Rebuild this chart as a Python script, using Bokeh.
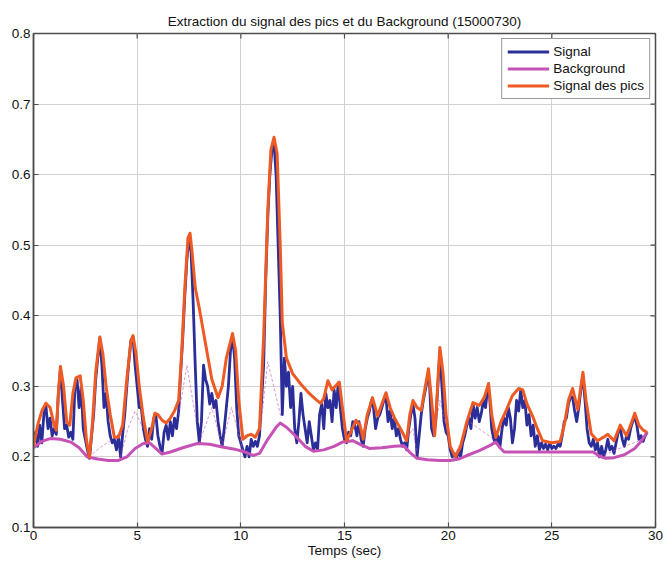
from bokeh.plotting import figure
from bokeh.models import Range1d, FixedTicker, NumeralTickFormatter
from bokeh.embed import file_html
from bokeh.resources import INLINE

FONT = "Liberation Sans"

title_text = "Extraction du signal des pics et du Background (15000730)"
x_label = "Temps (sec)"
x_ticks = [0, 5, 10, 15, 20, 25, 30]
y_ticks = [0.1, 0.2, 0.3, 0.4, 0.5, 0.6, 0.7, 0.8]
X_MIN, X_MAX = 0, 30
Y_MIN, Y_MAX = 0.1, 0.8

# Signal (blue), sampled every 0.1 s from 0.0 to 29.6 s
signal_y = [
    0.22, 0.235, 0.215, 0.245, 0.22, 0.26, 0.272, 0.24, 0.255, 0.23,
    0.24, 0.232, 0.29, 0.325, 0.28, 0.24, 0.245, 0.228, 0.235, 0.225,
    0.30, 0.31, 0.27, 0.30, 0.24, 0.225, 0.21, 0.198, 0.23, 0.26,
    0.31, 0.34, 0.368, 0.33, 0.27, 0.29, 0.25, 0.23, 0.22, 0.225,
    0.21, 0.23, 0.20, 0.232, 0.26, 0.30, 0.335, 0.365, 0.37, 0.33,
    0.30, 0.27, 0.27, 0.24, 0.225, 0.215, 0.24, 0.225, 0.255, 0.26,
    0.23, 0.215, 0.205, 0.235, 0.245, 0.225, 0.25, 0.23, 0.255, 0.24,
    0.265, 0.32, 0.37, 0.43, 0.48, 0.512, 0.49, 0.42, 0.33, 0.25,
    0.22, 0.25, 0.33, 0.31, 0.30, 0.275, 0.29, 0.27, 0.28, 0.25,
    0.23, 0.215, 0.24, 0.27, 0.30, 0.35, 0.372, 0.34, 0.27, 0.23,
    0.22, 0.21, 0.20, 0.215, 0.20, 0.225, 0.215, 0.222, 0.215, 0.23,
    0.28, 0.33, 0.45, 0.54, 0.60, 0.635, 0.645, 0.60, 0.50, 0.40,
    0.26, 0.34, 0.30, 0.32, 0.27, 0.30, 0.24, 0.22, 0.25, 0.29,
    0.26, 0.24, 0.22, 0.25, 0.23, 0.21, 0.22, 0.21, 0.26, 0.275,
    0.24, 0.29, 0.27, 0.28, 0.25, 0.295, 0.27, 0.305, 0.27, 0.24,
    0.225, 0.22, 0.235, 0.23, 0.25, 0.245, 0.23, 0.25, 0.225, 0.215,
    0.24, 0.255, 0.265, 0.28, 0.27, 0.24, 0.255, 0.26, 0.27, 0.28,
    0.285, 0.25, 0.265, 0.24, 0.255, 0.23, 0.24, 0.225, 0.215, 0.22,
    0.21, 0.24, 0.26, 0.275, 0.255, 0.20, 0.23, 0.26, 0.28, 0.295,
    0.31, 0.305, 0.24, 0.23, 0.25, 0.30, 0.35, 0.30, 0.25, 0.235,
    0.23, 0.21, 0.20, 0.205, 0.198, 0.21, 0.20, 0.22, 0.23, 0.245,
    0.255, 0.24, 0.275, 0.255, 0.27, 0.25, 0.262, 0.28, 0.27, 0.295,
    0.285, 0.24, 0.225, 0.22, 0.23, 0.215, 0.24, 0.255, 0.245, 0.27,
    0.255, 0.22, 0.24, 0.28, 0.265, 0.295, 0.27, 0.28, 0.245, 0.26,
    0.23, 0.245, 0.215, 0.23, 0.21, 0.22, 0.212, 0.218, 0.21, 0.22,
    0.212, 0.215, 0.212, 0.218, 0.215, 0.23, 0.25, 0.255, 0.275, 0.285,
    0.285, 0.265, 0.25, 0.27, 0.295, 0.315, 0.28, 0.24, 0.22, 0.215,
    0.225, 0.21, 0.22, 0.20, 0.215, 0.20, 0.21, 0.225, 0.21, 0.215,
    0.205, 0.22, 0.235, 0.24, 0.225, 0.215, 0.23, 0.225, 0.24, 0.25,
    0.258, 0.245, 0.225, 0.23, 0.222, 0.23, 0.235,
]
signal_t = [round(i * 0.1, 1) for i in range(len(signal_y))]

# Signal des pics (orange upper envelope)
peaks_t = [0.0, 0.2, 0.4, 0.6, 0.8, 1.0, 1.1, 1.2, 1.3, 1.45, 1.6, 1.75, 1.9, 2.05, 2.25,
           2.4, 2.55, 2.7, 2.85, 3.0, 3.2, 3.35, 3.5, 3.7, 3.9, 4.1, 4.3, 4.5, 4.7, 4.8,
           4.95, 5.1, 5.3, 5.5, 5.7, 5.85, 6.0, 6.2, 6.4, 6.6, 6.8, 7.0, 7.15, 7.3, 7.45,
           7.55, 7.65, 7.8, 8.0, 8.3, 8.6, 8.9, 9.1, 9.3, 9.6, 9.75, 9.9, 10.1, 10.3, 10.5,
           10.7, 10.9, 11.1, 11.3, 11.45, 11.6, 11.75, 11.9, 12.0, 12.2, 12.5, 12.9, 13.3,
           13.6, 13.85, 14.0, 14.2, 14.4, 14.55, 14.75, 14.9, 15.1, 15.3, 15.55, 15.75,
           15.9, 16.1, 16.35, 16.6, 16.8, 17.0, 17.2, 17.4, 17.7, 18.0, 18.15, 18.3, 18.5,
           18.7, 18.9, 19.05, 19.2, 19.35, 19.45, 19.6, 19.75, 19.9, 20.1, 20.35, 20.6,
           20.9, 21.2, 21.5, 21.75, 21.95, 22.1, 22.3, 22.55, 22.8, 23.1, 23.4, 23.6, 23.8,
           24.1, 24.3, 24.55, 25.0, 25.4, 25.6, 25.8, 26.0, 26.25, 26.4, 26.5, 26.65, 26.9,
           27.2, 27.5, 27.7, 28.0, 28.3, 28.6, 28.8, 29.0, 29.2, 29.4, 29.6]
peaks_y = [0.215, 0.245, 0.265, 0.276, 0.27, 0.245, 0.238, 0.29, 0.328, 0.30, 0.25, 0.245,
           0.29, 0.312, 0.315, 0.28, 0.225, 0.20, 0.25, 0.32, 0.37, 0.345, 0.30, 0.26,
           0.228, 0.228, 0.245, 0.31, 0.365, 0.372, 0.345, 0.30, 0.255, 0.222, 0.24, 0.262,
           0.26, 0.252, 0.248, 0.255, 0.265, 0.28, 0.35, 0.44, 0.51, 0.517, 0.49, 0.44,
           0.41, 0.36, 0.31, 0.284, 0.30, 0.34, 0.375, 0.35, 0.28, 0.225, 0.23, 0.232,
           0.228, 0.24, 0.37, 0.55, 0.635, 0.653, 0.63, 0.50, 0.39, 0.34, 0.318, 0.303,
           0.29, 0.282, 0.276, 0.283, 0.308, 0.295, 0.30, 0.306, 0.27, 0.223, 0.235,
           0.252, 0.245, 0.225, 0.26, 0.284, 0.258, 0.275, 0.291, 0.27, 0.256, 0.24,
           0.223, 0.26, 0.28, 0.27, 0.266, 0.30, 0.325, 0.28, 0.23, 0.28, 0.355, 0.32,
           0.26, 0.215, 0.20, 0.215, 0.25, 0.277, 0.273, 0.285, 0.304, 0.26, 0.228, 0.25,
           0.266, 0.287, 0.297, 0.295, 0.275, 0.256, 0.24, 0.223, 0.22, 0.222, 0.245,
           0.28, 0.297, 0.267, 0.30, 0.32, 0.28, 0.233, 0.223, 0.228, 0.232, 0.223, 0.245,
           0.23, 0.245, 0.262, 0.245, 0.238, 0.235]

# Background (magenta)
bg_t = [0.0, 0.4, 0.8, 1.3, 1.8, 2.2, 2.6, 3.1, 3.6, 4.1, 4.5, 4.9, 5.3, 5.6, 5.9, 6.2,
        6.6, 7.2, 7.9, 8.5, 9.1, 9.7, 10.2, 10.6, 10.9, 11.3, 11.7, 11.9, 12.2, 12.7,
        13.1, 13.5, 14.0, 14.5, 14.9, 15.4, 15.8, 16.2, 16.8, 17.4, 17.85, 18.2, 18.5,
        19.0, 19.6, 20.1, 20.5, 20.9, 21.5, 22.0, 22.3, 22.5, 22.7, 23.5, 24.5, 25.5,
        26.5, 27.0, 27.3, 27.6, 28.0, 28.5, 29.0, 29.3, 29.6]
bg_y = [0.213, 0.222, 0.226, 0.225, 0.221, 0.213, 0.20, 0.197, 0.195, 0.195, 0.20, 0.212,
        0.219, 0.22, 0.212, 0.204, 0.207, 0.213, 0.219, 0.218, 0.214, 0.211, 0.207,
        0.202, 0.205, 0.225, 0.242, 0.248, 0.242, 0.228, 0.215, 0.208, 0.21, 0.215,
        0.221, 0.223, 0.217, 0.212, 0.213, 0.215, 0.216, 0.205, 0.198, 0.196, 0.195,
        0.195, 0.197, 0.202, 0.209, 0.216, 0.221, 0.213, 0.207, 0.207, 0.207, 0.207,
        0.207, 0.207, 0.201, 0.198, 0.199, 0.203, 0.212, 0.222, 0.235]

# Thin dashed magenta segments (signal without peaks)
nan = float("nan")
dash_t = [2.65, 3.3, 3.8, nan, 4.2, 4.55, 4.9, 5.3, nan, 7.0, 7.4, 7.85, nan,
          8.0, 8.6, 9.1, 9.55, 10.1, nan, 10.95, 11.3, 11.95, nan, 17.8, 18.3, 18.5, nan,
          19.3, 19.6, 20.0, nan, 20.3, 21.0, 22.2, nan, 27.3, 28.5, 29.4]
dash_y = [0.20, 0.215, 0.225, nan, 0.20, 0.24, 0.265, 0.24, nan, 0.26, 0.33, 0.25, nan,
          0.22, 0.27, 0.215, 0.27, 0.21, nan, 0.24, 0.335, 0.255, nan, 0.215, 0.24, 0.205, nan,
          0.23, 0.28, 0.235, nan, 0.20, 0.25, 0.225, nan, 0.20, 0.215, 0.225]

BLUE = "#2B2E98"
MAGENTA = "#C652B6"
ORANGE = "#EE5A24"
FRAME = "#4d4d4d"
TEXT = "#111111"

W, H = 665, 562
BL, BR, BT, BB = 33, 10, 33, 35

p = figure(width=W, height=H, output_backend="svg", toolbar_location=None,
           x_range=Range1d(X_MIN, X_MAX), y_range=Range1d(Y_MIN, Y_MAX),
           min_border_left=BL, min_border_right=BR, min_border_top=BT, min_border_bottom=BB,
           title=title_text)

p.title.text_font = FONT
p.title.text_font_size = "13.5px"
p.title.text_font_style = "normal"
p.title.text_color = TEXT
p.title.align = "center"
p.title.standoff = 10

p.xgrid.grid_line_color = "#d2d2d2"
p.ygrid.grid_line_color = "#d2d2d2"
p.xgrid.ticker = FixedTicker(ticks=x_ticks)
p.ygrid.ticker = FixedTicker(ticks=y_ticks)
p.outline_line_color = FRAME
p.outline_line_width = 1.5

def style_axis(ax):
    ax.axis_line_color = FRAME
    ax.axis_line_width = 1.5
    ax.major_tick_line_color = FRAME
    ax.major_tick_line_width = 1.2
    ax.major_tick_in = 5
    ax.major_tick_out = 0
    ax.minor_tick_in = 0
    ax.minor_tick_out = 0
    ax.major_label_text_font = FONT
    ax.major_label_text_color = TEXT
    ax.major_label_text_font_size = "13.5px"
    ax.major_label_standoff = 3

xa = p.xaxis[0]
xa.ticker = FixedTicker(ticks=x_ticks)
style_axis(xa)
xa.axis_label = x_label
xa.axis_label_text_font = FONT
xa.axis_label_text_font_size = "13.5px"
xa.axis_label_text_font_style = "normal"
xa.axis_label_text_color = TEXT
xa.axis_label_standoff = 0

ya = p.yaxis[0]
ya.ticker = FixedTicker(ticks=y_ticks)
ya.formatter = NumeralTickFormatter(format="0.0")
style_axis(ya)

# mirrored inward ticks on the top and right frame edges (5 px long)
frame_w = W - BL - BR
frame_h = H - BT - BB
dy = 5 * (Y_MAX - Y_MIN) / frame_h
dx = 5 * (X_MAX - X_MIN) / frame_w
p.segment(x0=x_ticks, y0=[Y_MAX] * len(x_ticks), x1=x_ticks, y1=[Y_MAX - dy] * len(x_ticks),
          line_color=FRAME, line_width=1.2)
p.segment(x0=[X_MAX] * len(y_ticks), y0=y_ticks, x1=[X_MAX - dx] * len(y_ticks), y1=y_ticks,
          line_color=FRAME, line_width=1.2)

p.line(signal_t, signal_y, line_color=BLUE, line_width=2.8, line_join="round",
       legend_label="Signal")
p.line(dash_t, dash_y, line_color=MAGENTA, line_width=1, line_dash="3 2", line_alpha=0.6)
p.line(bg_t, bg_y, line_color=MAGENTA, line_width=3, line_join="round",
       legend_label="Background")
p.line(peaks_t, peaks_y, line_color=ORANGE, line_width=3, line_join="round",
       legend_label="Signal des pics")

lg = p.legend[0]
lg.location = "top_right"
lg.margin = 5
lg.padding = 5
lg.spacing = 2
lg.glyph_width = 42
lg.glyph_height = 15
lg.label_height = 15
lg.label_standoff = 4
lg.label_text_font = FONT
lg.label_text_font_size = "13.5px"
lg.label_text_color = TEXT
lg.border_line_color = "#333333"
lg.border_line_width = 1
lg.background_fill_alpha = 1.0

open("out.html", "w").write(file_html(p, INLINE))
